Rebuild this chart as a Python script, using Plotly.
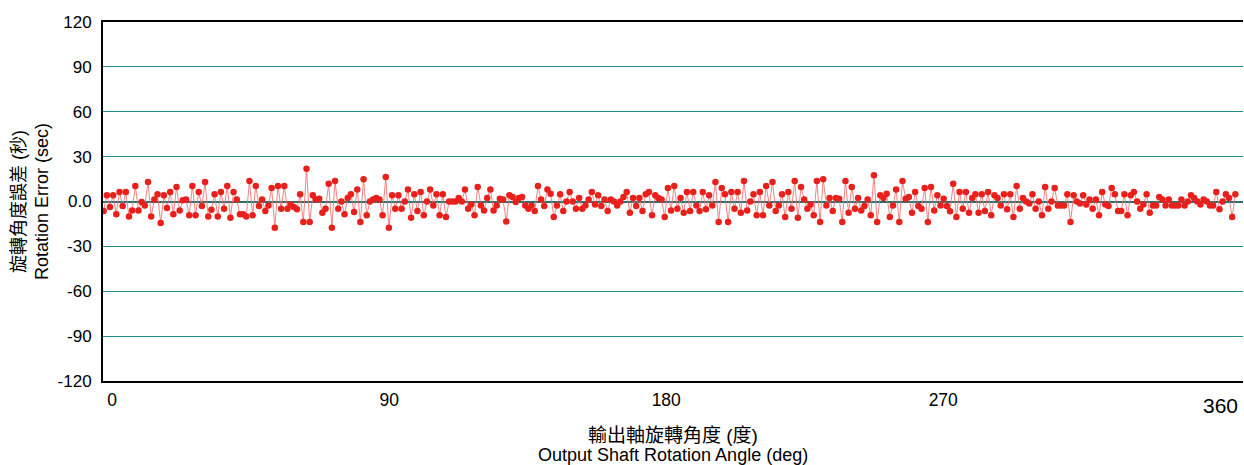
import numpy as np
import plotly.graph_objects as go

# rotation error (arc-sec) sampled about every degree of output shaft rotation
start_deg = -2.8
step_deg = 1.03
err = [
    -6.3, 4.1, -3.7, 4.1, -8.6, 6.3, -3.0, 6.3, -10.0, -6.0, 10.4, -6.0, -0.3, -2.6, 13.0,
    -10.0, 1.4, 4.8, -14.4, 4.1, -4.3, 6.3, -8.6, 9.7, -6.0, 0.8, 1.4, -9.2, 10.4, -9.2,
    6.3, -3.0, 13.0, -10.0, -5.5, 4.8, -10.0, 6.3, -4.8, 10.4, -10.8, 6.3, 1.4, -8.6, -8.6,
    -10.0, 13.7, -9.2, 10.4, -3.0, 1.4, -6.3, -2.6, 9.0, -17.5, 10.4, -4.8, 10.4, -4.8, -2.0,
    -3.7, -5.2, 4.8, -13.7, 21.9, -13.7, 4.1, 1.4, 1.9, -7.5, -4.8, 11.9, -17.5, 13.7, -4.8,
    0.0, -8.6, 2.3, 4.8, -7.0, 8.1, -13.7, 14.8, -9.2, 0.0, 1.4, 2.3, 1.4, -9.2, 16.4,
    -17.5, 4.1, -4.8, 4.1, -4.8, 0.0, 8.1, -10.8, 4.8, -6.3, 6.3, -9.2, 0.0, 8.1, -2.6,
    4.8, -9.2, 4.8, -10.4, 0.0, 0.0, 0.0, 2.3, 0.0, 8.1, -4.8, -2.0, -9.2, 9.7, -2.6,
    -6.0, 2.3, 8.1, -6.0, -2.6, 1.9, 1.4, -13.3, 4.1, 3.0, -0.3, 2.3, 3.0, -2.6, -4.8,
    -2.6, -6.3, 10.4, 1.4, -3.0, 8.1, 5.2, -10.4, -2.6, 4.8, -6.3, 0.0, 6.3, 0.0, -4.8, 2.3,
    -4.8, -2.6, 1.4, 6.3, -2.0, 4.1, -3.0, 1.4, -6.3, 1.4, 0.0, -2.6, 0.0, 3.0, 6.3,
    -7.5, 2.3, -3.0, 2.3, -6.3, 4.8, 6.3, -9.2, 4.1, 2.3, 1.4, -10.4, 9.0, -6.0,
    10.4, -4.8, 2.3, -7.5, 6.3, -6.3, 6.3, -2.6, -6.3, 6.3, -5.2, 4.1, -2.6, 13.0, -13.7,
    9.0, 4.8, -13.7, 6.3, -4.8, 6.3, -7.5, 13.7, -6.0, 0.0, 4.8, -9.2, 6.3, -9.2,
    10.4, -2.6, 13.0, -6.3, -2.6, 4.8, -10.4, 6.3, -4.8, 13.7, -10.8, 9.7, 1.4, -4.8, -2.0,
    -9.2, 13.7, -13.7, 14.8, -2.6, 2.3, -6.3, 2.3, 1.9, -13.7, 13.7, -7.5, 9.7, -4.8, 2.3,
    -6.0, -3.0, 1.4, -9.2, 17.5, -13.7, 4.1, 2.3, 5.2, -10.4, -2.6, 8.1, -13.7, 13.7, 1.9,
    3.0, -7.5, 6.3, -3.0, -4.8, 9.0, -13.7, 9.7, -6.0, 4.1, -2.6, 1.9, -3.0, -6.5, 11.9,
    -10.4, 6.3, -4.8, 6.3, -7.5, 2.3, 4.8, -7.5, 4.8, -6.3, 6.3, -9.2, 4.1, 2.3, -2.6,
    4.8, -5.2, 4.8, -10.4, 10.4, -4.8, 2.3, 0.0, -1.4, 4.8, -4.8, 0.0, -9.2, 9.7, -4.8, 0.0,
    9.0, -2.6, -2.6, -2.6, 4.8, -13.7, 4.1, 0.0, -1.4, 4.1, -2.0, 1.4, -4.8, 1.4, -9.2,
    6.3, -2.0, -3.0, 9.0, 4.8, -6.3, -6.3, 4.8, -9.2, 4.1, 6.3, 0.0, -4.8, -2.0, 4.8,
    -7.5, -2.6, -2.6, 3.0, 1.4, -2.6, 1.4, -2.6, -2.6, -2.6, 1.4, -2.6, 0.0, 4.1, 2.3,
    0.0, -2.0, 1.4, 0.0, -2.6, -2.6, 6.3, -5.2, 0.0, 4.8, 2.3, -10.4, 4.8,
]
angle = start_deg + step_deg * np.arange(len(err))

x_ticks = [0, 90, 180, 270]
y_ticks = [120, 90, 60, 30, 0, -30, -60, -90, -120]
y_labels = ["120", "90", "60", "30", "0.0", "-30", "-60", "-90", "-120"]

font = "Liberation Sans, Arial, Noto Sans CJK TC, sans-serif"
teal = "#1f8c8c"

fig = go.Figure()
fig.add_trace(go.Scatter(
    x=angle, y=err, mode="lines+markers",
    line=dict(color="rgba(240,110,110,0.85)", width=1),
    marker=dict(color="#e8201c", size=6.5),
    showlegend=False, hoverinfo="x+y",
))

fig.add_annotation(x=360, y=0, xref="x", yref="paper", yanchor="top", yshift=-11,
                   text="360", showarrow=False, font=dict(size=21, color="black", family=font))
# x title as two annotations so the lines sit close together like the original
fig.add_annotation(x=0.5, y=0, xref="paper", yref="paper", yanchor="middle", yshift=-54,
                   text="輸出軸旋轉角度 (度)", showarrow=False,
                   font=dict(size=19, color="black", family=font))
fig.add_annotation(x=0.5, y=0, xref="paper", yref="paper", yanchor="middle", yshift=-74,
                   text="Output Shaft Rotation Angle (deg)", showarrow=False,
                   font=dict(size=18, color="black", family=font))

fig.update_xaxes(
    range=[-3, 367.4], tickvals=x_ticks, ticktext=[str(v) for v in x_ticks],
    showgrid=False, zeroline=False, showline=True, mirror=True, automargin=False,
    linecolor="black", linewidth=1.5, ticks="", ticklabelstandoff=2,
    tickfont=dict(size=17.5, color="black"),
)
fig.update_yaxes(
    range=[-120, 120], tickvals=y_ticks, ticktext=y_labels, automargin=False,
    showgrid=True, gridcolor=teal, gridwidth=1.2,
    zeroline=True, zerolinecolor="#2a6e6e", zerolinewidth=2,
    showline=True, linecolor="black", linewidth=2, ticks="", ticklabelstandoff=6,
    tickfont=dict(size=17, color="black"),
    title=dict(text="旋轉角度誤差 (秒)<br>Rotation Error (sec)",
               font=dict(size=18, color="black"), standoff=4),
)
fig.update_layout(
    width=1244, height=465,
    margin=dict(l=103, r=1, t=22, b=84),
    plot_bgcolor="white", paper_bgcolor="white",
    font=dict(family=font, color="black"),
)
fig.write_html("out.html", config={"displayModeBar": False},
               post_script="document.body.style.margin='0';")
